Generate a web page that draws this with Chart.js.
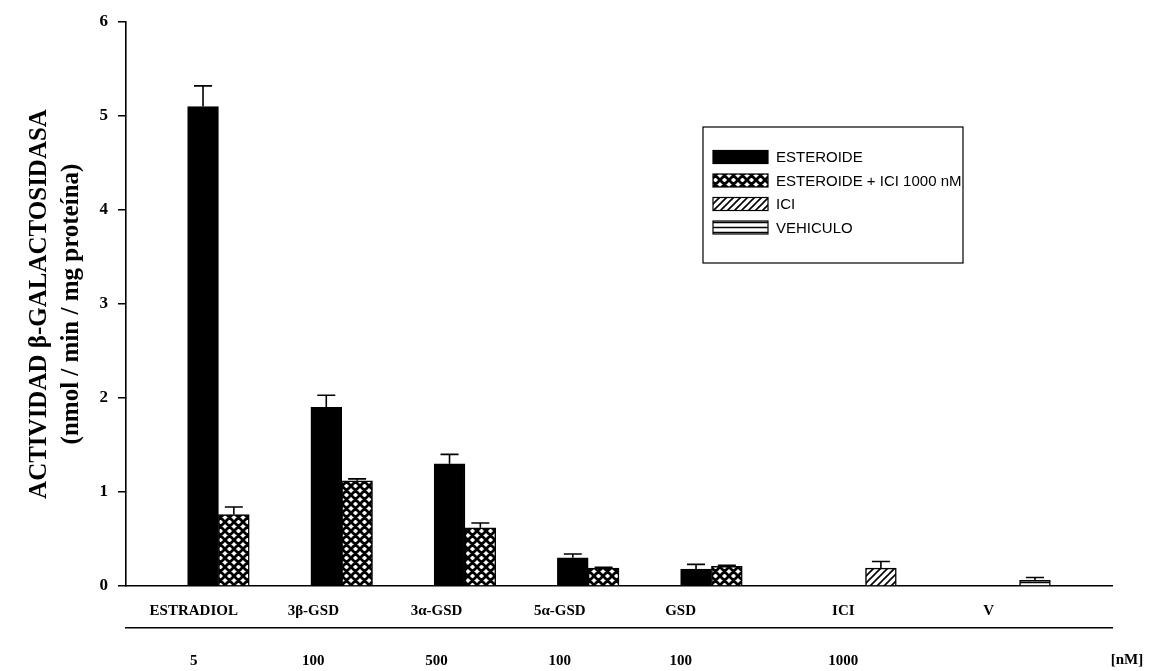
<!DOCTYPE html>
<html>
<head>
<meta charset="utf-8">
<script src="https://cdn.jsdelivr.net/npm/chart.js@4.4.1/dist/chart.umd.min.js"></script>
<style>
  html, body { margin: 0; padding: 0; background: #fff; }
  #wrap { width: 1156px; height: 671px; position: relative; }
</style>
</head>
<body>
<div id="wrap"><canvas id="c" width="1156" height="671"></canvas></div>
<script>
// ---- data ----
const categories = ['ESTRADIOL', '3β-GSD', '3α-GSD', '5α-GSD', 'GSD', 'ICI', 'V'];
const concentrations = ['5', '100', '500', '100', '100', '1000', ''];
const concUnit = '[nM]';
const seriesNames = ['ESTEROIDE', 'ESTEROIDE + ICI 1000 nM', 'ICI', 'VEHICULO'];

const esteroide       = [5.10, 1.90, 1.30, 0.30, 0.18, null, null];
const esteroideErr    = [0.22, 0.13, 0.10, 0.04, 0.05, null, null];
const esteroideIci    = [0.76, 1.12, 0.62, 0.19, 0.21, null, null];
const esteroideIciErr = [0.08, 0.02, 0.05, 0.01, 0.01, null, null];
const ici             = [null, null, null, null, null, 0.19, null];
const iciErr          = [null, null, null, null, null, 0.07, null];
const vehiculo        = [null, null, null, null, null, null, 0.06];
const vehiculoErr     = [null, null, null, null, null, null, 0.03];

const yTicks = [0, 1, 2, 3, 4, 5, 6];
// axis units where each category name / dose is printed
const labelAt = [-0.45, 0.52, 1.52, 2.52, 3.50, 4.82, 6.00];

// ---- fill patterns ----
function makePattern(kind) {
  const s = kind === 'cross' ? 9 : kind === 'diag' ? 7 : 5;
  const c = document.createElement('canvas');
  c.width = s; c.height = s;
  const g = c.getContext('2d');
  g.fillStyle = '#fff';
  g.fillRect(0, 0, s, s);
  g.strokeStyle = '#000';
  g.beginPath();
  if (kind === 'cross') {
    g.lineWidth = 2.8;
    g.moveTo(0, s); g.lineTo(s, 0);
    g.moveTo(-1, 1); g.lineTo(1, -1);
    g.moveTo(s - 1, s + 1); g.lineTo(s + 1, s - 1);
    g.moveTo(0, 0); g.lineTo(s, s);
    g.moveTo(-1, s - 1); g.lineTo(1, s + 1);
    g.moveTo(s - 1, -1); g.lineTo(s + 1, 1);
  } else if (kind === 'diag') {
    g.lineWidth = 1.6;
    g.moveTo(0, s); g.lineTo(s, 0);
    g.moveTo(-1, 1); g.lineTo(1, -1);
    g.moveTo(s - 1, s + 1); g.lineTo(s + 1, s - 1);
  } else {
    g.lineWidth = 1.5;
    g.moveTo(0, 2.5); g.lineTo(s, 2.5);
  }
  g.stroke();
  return g.createPattern(c, 'repeat');
}

const fills = ['#000', makePattern('cross'), makePattern('diag'), makePattern('hline')];
const seriesValues = [esteroide, esteroideIci, ici, vehiculo];
const seriesErrors = [esteroideErr, esteroideIciErr, iciErr, vehiculoErr];

const datasets = seriesNames.map((name, k) => ({
  label: name,
  data: categories.map((c, i) => ({ x: i, y: seriesValues[k][i] })),
  errors: seriesErrors[k],
  backgroundColor: fills[k],
  borderColor: '#000',
  borderWidth: 1.5,
  categoryPercentage: 1,
  barPercentage: 1
}));

const serif = "'Liberation Serif', 'Times New Roman', serif";
const sans = "'Liberation Sans', Arial, sans-serif";

// upward error bars with caps
const errorBars = {
  id: 'errorBars',
  afterDatasetsDraw(chart) {
    const ctx = chart.ctx;
    const yS = chart.scales.y;
    chart.data.datasets.forEach((ds, di) => {
      const meta = chart.getDatasetMeta(di);
      meta.data.forEach((bar, i) => {
        const v = ds.data[i].y, e = ds.errors[i];
        if (v == null || e == null) return;
        const top = yS.getPixelForValue(v + e);
        ctx.save();
        ctx.strokeStyle = '#000';
        ctx.lineWidth = 1.6;
        ctx.beginPath();
        ctx.moveTo(bar.x, bar.y);
        ctx.lineTo(bar.x, top);
        ctx.moveTo(bar.x - 9, top);
        ctx.lineTo(bar.x + 9, top);
        ctx.stroke();
        ctx.restore();
      });
    });
  }
};

// boxed legend inside the plot + unit label for the dose row
const boxLegend = {
  id: 'boxLegend',
  afterDraw(chart, args, opts) {
    const ctx = chart.ctx;
    const { left, top, width, height, rowGap, firstRow } = opts;
    ctx.save();
    ctx.strokeStyle = '#000';
    ctx.lineWidth = 1.2;
    ctx.strokeRect(left, top, width, height);
    ctx.font = '15px ' + sans;
    ctx.textBaseline = 'middle';
    ctx.fillStyle = '#000';
    chart.data.datasets.forEach((ds, k) => {
      const cy = top + firstRow + k * rowGap;
      ctx.fillStyle = ds.backgroundColor;
      ctx.fillRect(left + 10, cy - 6.5, 55, 13);
      ctx.strokeStyle = '#000';
      ctx.lineWidth = 1.2;
      ctx.strokeRect(left + 10, cy - 6.5, 55, 13);
      ctx.fillStyle = '#000';
      ctx.fillText(ds.label, left + 73, cy + 1);
    });
    // dose unit at the right end of the dose row
    const xc = chart.scales.xc;
    ctx.font = 'bold 15px ' + serif;
    ctx.textAlign = 'center';
    ctx.fillText(concUnit, xc.right + 15, xc.top + 32);
    ctx.restore();
  }
};

new Chart(document.getElementById('c'), {
  type: 'bar',
  data: { datasets },
  plugins: [errorBars, boxLegend],
  options: {
    responsive: false,
    animation: false,
    layout: { padding: { top: 22, right: 44, left: 0, bottom: 0 } },
    plugins: {
      legend: { display: false },
      tooltip: { enabled: false },
      boxLegend: { left: 703, top: 127, width: 260, height: 136, firstRow: 30, rowGap: 23.5 }
    },
    scales: {
      x: {
        type: 'linear',
        position: 'bottom',
        weight: 1,
        min: -1, max: 7,
        offset: false,
        grid: { display: false, drawTicks: false, offset: false },
        border: { display: true, color: '#000', width: 1.6 },
        ticks: { display: false, stepSize: 1 },
        afterFit: s => { s.height = 0; }
      },
      xl: {
        type: 'linear',
        position: 'bottom',
        weight: 2,
        min: -1, max: 7,
        offset: false,
        bounds: 'data',
        grid: { display: false, drawTicks: false, offset: false },
        border: { display: false },
        afterBuildTicks: s => { s.ticks = labelAt.map(v => ({ value: v })); },
        ticks: {
          autoSkip: false, maxRotation: 0, padding: 16,
          color: '#000',
          font: { family: serif, size: 15, weight: 'bold' },
          callback: (v, i) => categories[i]
        },
        afterFit: s => { s.height = 42; }
      },
      xc: {
        type: 'linear',
        position: 'bottom',
        weight: 3,
        min: -1, max: 7,
        offset: false,
        bounds: 'data',
        grid: { display: false, drawTicks: false, offset: false },
        border: { display: true, color: '#000', width: 1.4 },
        afterBuildTicks: s => { s.ticks = labelAt.map(v => ({ value: v })); },
        ticks: {
          autoSkip: false, maxRotation: 0, padding: 24,
          color: '#000',
          font: { family: serif, size: 15, weight: 'bold' },
          callback: (v, i) => concentrations[i]
        },
        afterFit: s => { s.height = 43; }
      },
      y: {
        min: 0, max: 6,
        afterBuildTicks: s => { s.ticks = yTicks.map(v => ({ value: v })); },
        grid: { drawOnChartArea: false, drawTicks: true, tickLength: 8, color: '#000', lineWidth: 1.5 },
        border: { display: true, color: '#000', width: 1.6 },
        ticks: {
          padding: 10, color: '#000',
          font: { family: serif, size: 17, weight: 'bold' }
        },
        title: {
          display: true,
          text: ['ACTIVIDAD β-GALACTOSIDASA', '(nmol / min / mg proteína)'],
          color: '#000',
          font: { family: serif, size: 25, weight: 'bold', lineHeight: 1.28 },
          padding: { top: 24, bottom: 0 }
        },
        afterFit: s => { s.width = 126; }
      }
    }
  }
});
</script>
</body>
</html>
